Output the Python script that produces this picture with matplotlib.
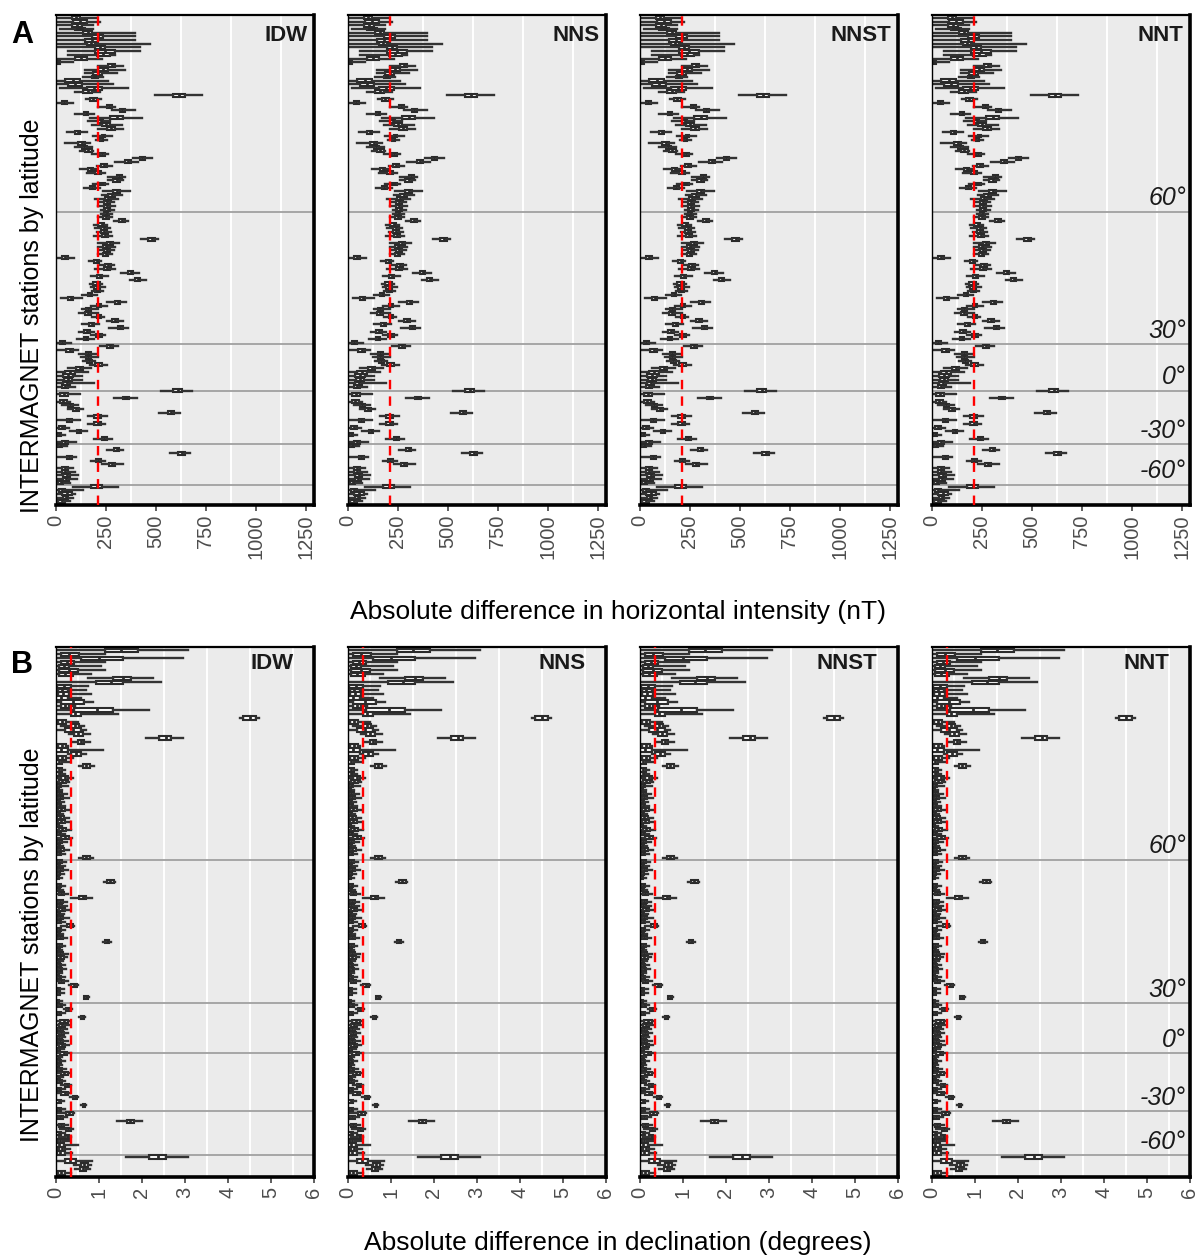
import matplotlib
matplotlib.use("Agg")
import matplotlib.pyplot as plt

plt.rcParams['font.family'] = ['Liberation Sans', 'DejaVu Sans']

methods = ['IDW', 'NNS', 'NNST', 'NNT']
lat_labels = ['60°', '30°', '0°', '-30°', '-60°']
# station rows (north to south) where the latitude bands change
lat_rows = [52.5, 88.5, 101, 115.5, 126.5]

# horizontal intensity differences (nT), one box per station
h_q1 = [78, 87, 78, 95, 137, 178, 145, 153, 195, 195,
        203, 95, 3, 262, 212, 187, 178, 45, 62, 153,
        137, 587, 170, 28, 253, 320, 142, 270, 212, 228,
        253, 95, 228, 220, 112, 128, 145, 220, 420, 345,
        225, 162, 195, 303, 287, 212, 170, 287, 262, 245,
        242, 242, 245, 242, 237, 315, 212, 225, 225, 228,
        462, 253, 237, 242, 237, 28, 192, 245, 242, 362,
        203, 395, 187, 192, 195, 158, 62, 295, 203, 148,
        145, 203, 282, 165, 308, 142, 198, 142, 20, 253,
        50, 148, 148, 153, 195, 98, 45, 37, 42, 37,
        28, 587, 20, 337, 20, 58, 87, 558, 192, 53,
        192, 15, 103, 3, 228, 28, 8, 292, 612, 53,
        198, 265, 32, 28, 37, 37, 12, 175, 15, 28,
        37, 12]
h_med = [100, 120, 103, 120, 158, 208, 178, 175, 220, 245,
         237, 125, 12, 278, 237, 208, 195, 85, 95, 190,
         158, 615, 187, 40, 265, 332, 152, 303, 225, 250,
         275, 108, 237, 228, 128, 140, 162, 232, 432, 360,
         240, 175, 210, 315, 303, 228, 182, 305, 278, 260,
         255, 255, 258, 252, 250, 330, 228, 240, 240, 243,
         478, 270, 250, 255, 250, 45, 203, 260, 255, 375,
         218, 408, 203, 206, 208, 168, 75, 308, 214, 162,
         160, 214, 297, 178, 322, 156, 213, 152, 32, 270,
         68, 162, 162, 165, 212, 118, 70, 62, 60, 53,
         45, 608, 40, 350, 37, 72, 100, 575, 208, 65,
         208, 30, 114, 14, 240, 45, 18, 303, 628, 65,
         212, 280, 47, 45, 53, 51, 25, 203, 30, 53,
         50, 28]
h_q3 = [120, 153, 128, 145, 178, 237, 212, 195, 245, 295,
        270, 153, 20, 295, 262, 228, 212, 120, 128, 228,
        178, 645, 203, 53, 278, 345, 162, 337, 237, 270,
        295, 120, 245, 237, 145, 153, 178, 245, 445, 375,
        253, 187, 223, 328, 320, 245, 195, 320, 295, 275,
        270, 270, 270, 262, 265, 345, 242, 253, 253, 258,
        495, 287, 262, 270, 262, 62, 215, 275, 270, 387,
        232, 420, 220, 220, 220, 178, 87, 320, 225, 175,
        175, 225, 312, 192, 337, 170, 228, 162, 45, 287,
        87, 175, 175, 178, 228, 137, 95, 87, 78, 70,
        62, 628, 62, 365, 53, 87, 115, 592, 225, 78,
        225, 45, 125, 25, 253, 62, 28, 315, 645, 78,
        225, 295, 62, 62, 70, 65, 37, 232, 45, 78,
        62, 45]
h_lo = [0, 0, 0, 20, 0, 0, 0, 0, 0, 62,
        62, 0, 0, 212, 145, 145, 137, 0, 12, 20,
        95, 495, 148, 3, 212, 278, 95, 170, 162, 178,
        212, 53, 187, 200, 45, 95, 120, 178, 387, 295,
        203, 120, 153, 262, 262, 187, 142, 237, 228, 195,
        220, 208, 225, 225, 212, 292, 192, 195, 205, 192,
        425, 212, 212, 220, 212, 0, 166, 220, 195, 325,
        175, 370, 170, 175, 180, 132, 25, 253, 175, 128,
        115, 178, 253, 132, 265, 115, 175, 103, 3, 220,
        12, 115, 125, 135, 170, 62, 12, 3, 12, 3,
        0, 525, 3, 292, 3, 28, 62, 515, 158, 12,
        158, 3, 70, 0, 192, 3, 0, 253, 570, 8,
        175, 228, 3, 3, 3, 3, 0, 87, 0, 3,
        3, 0]
h_hi = [203, 220, 187, 187, 395, 395, 395, 470, 420, 420,
        295, 228, 87, 337, 345, 303, 237, 262, 287, 362,
        220, 728, 225, 87, 295, 395, 192, 432, 270, 328,
        337, 153, 278, 255, 170, 178, 187, 262, 478, 412,
        278, 203, 245, 345, 337, 262, 220, 370, 328, 308,
        290, 295, 290, 278, 278, 362, 253, 270, 275, 278,
        512, 315, 295, 290, 278, 92, 225, 292, 295, 415,
        262, 448, 228, 245, 235, 203, 128, 348, 253, 212,
        212, 242, 337, 215, 362, 192, 245, 192, 75, 308,
        112, 198, 212, 195, 253, 175, 162, 128, 128, 192,
        95, 682, 120, 403, 70, 112, 137, 620, 253, 120,
        245, 65, 153, 45, 282, 98, 53, 337, 670, 98,
        245, 337, 87, 95, 112, 103, 70, 312, 137, 95,
        87, 70]

# declination differences (degrees), same station order
d_q1 = [1.13, 0.12, 0.58, 0.12, 0.08, 0.08, 0.08, 1.32, 0.93, 0.02,
        0.04, 0.04, 0.0, 0.12, 0.12, 0.43, 0.35, 4.35, 0.04, 0.35,
        0.20, 0.43, 2.40, 0.50, 0.04, 0.0, 0.35, 0.04, 0.0, 0.62,
        0.0, 0.0, 0.12, 0.08, 0.02, 0.0, 0.02, 0.04, 0.0, 0.02,
        0.04, 0.0, 0.02, 0.04, 0.0, 0.06, 0.02, 0.12, 0.02, 0.0,
        0.04, 0.02, 0.62, 0.02, 0.0, 0.04, 0.02, 0.0, 1.19, 0.02,
        0.0, 0.06, 0.54, 0.04, 0.02, 0.06, 0.0, 0.04, 0.02, 0.25,
        0.02, 0.0, 0.04, 1.14, 0.02, 0.0, 0.04, 0.02, 0.0, 0.02,
        0.04, 0.0, 0.02, 0.06, 0.35, 0.0, 0.02, 0.64, 0.0, 0.04,
        0.23, 0.02, 0.58, 0.10, 0.06, 0.04, 0.06, 0.02, 0.04, 0.08,
        0.02, 0.10, 0.0, 0.02, 0.0, 0.04, 0.12, 0.0, 0.02, 0.20,
        0.02, 0.12, 0.39, 0.0, 0.62, 0.02, 0.23, 0.04, 1.65, 0.06,
        0.23, 0.0, 0.20, 0.04, 0.0, 0.06, 0.02, 2.17, 0.20, 0.58,
        0.56, 0.04]
d_med = [1.51, 0.30, 1.00, 0.25, 0.18, 0.30, 0.22, 1.55, 1.28, 0.18,
         0.15, 0.17, 0.12, 0.40, 0.22, 0.95, 0.45, 4.50, 0.13, 0.45,
         0.40, 0.52, 2.55, 0.58, 0.13, 0.12, 0.46, 0.13, 0.07, 0.70,
         0.07, 0.06, 0.20, 0.15, 0.07, 0.04, 0.08, 0.10, 0.05, 0.06,
         0.12, 0.05, 0.09, 0.11, 0.04, 0.14, 0.07, 0.20, 0.08, 0.04,
         0.10, 0.06, 0.70, 0.07, 0.05, 0.10, 0.06, 0.04, 1.26, 0.07,
         0.05, 0.12, 0.62, 0.10, 0.08, 0.13, 0.05, 0.10, 0.07, 0.32,
         0.07, 0.05, 0.10, 1.19, 0.07, 0.05, 0.10, 0.10, 0.05, 0.06,
         0.09, 0.04, 0.07, 0.12, 0.42, 0.05, 0.06, 0.70, 0.04, 0.09,
         0.29, 0.07, 0.62, 0.18, 0.14, 0.10, 0.12, 0.08, 0.10, 0.14,
         0.06, 0.18, 0.05, 0.07, 0.04, 0.09, 0.18, 0.05, 0.08, 0.26,
         0.07, 0.20, 0.44, 0.06, 0.65, 0.07, 0.31, 0.10, 1.73, 0.12,
         0.29, 0.06, 0.26, 0.10, 0.08, 0.13, 0.10, 2.37, 0.33, 0.66,
         0.63, 0.12]
d_q3 = [1.90, 0.54, 1.55, 0.43, 0.31, 0.50, 0.39, 1.75, 1.55, 0.35,
        0.27, 0.31, 0.27, 0.66, 0.31, 1.32, 0.58, 4.66, 0.23, 0.54,
        0.58, 0.62, 2.68, 0.66, 0.23, 0.27, 0.58, 0.23, 0.15, 0.80,
        0.15, 0.12, 0.27, 0.23, 0.12, 0.08, 0.15, 0.16, 0.10, 0.12,
        0.20, 0.09, 0.18, 0.20, 0.08, 0.24, 0.12, 0.30, 0.15, 0.09,
        0.18, 0.11, 0.78, 0.13, 0.10, 0.17, 0.10, 0.08, 1.34, 0.12,
        0.09, 0.18, 0.70, 0.17, 0.14, 0.21, 0.10, 0.16, 0.12, 0.39,
        0.12, 0.10, 0.16, 1.24, 0.13, 0.09, 0.17, 0.19, 0.09, 0.11,
        0.14, 0.08, 0.12, 0.18, 0.49, 0.10, 0.10, 0.74, 0.08, 0.14,
        0.35, 0.12, 0.66, 0.27, 0.22, 0.17, 0.18, 0.14, 0.17, 0.20,
        0.10, 0.25, 0.09, 0.12, 0.08, 0.15, 0.27, 0.09, 0.14, 0.31,
        0.12, 0.27, 0.49, 0.11, 0.68, 0.12, 0.39, 0.16, 1.81, 0.18,
        0.35, 0.12, 0.31, 0.17, 0.18, 0.20, 0.20, 2.56, 0.47, 0.74,
        0.70, 0.22]
d_lo = [0.0, 0.0, 0.0, 0.0, 0.0, 0.0, 0.0, 0.74, 0.0, 0.0,
        0.0, 0.0, 0.0, 0.0, 0.0, 0.0, 0.0, 4.28, 0.0, 0.12,
        0.05, 0.31, 2.10, 0.39, 0.0, 0.0, 0.27, 0.0, 0.0, 0.54,
        0.0, 0.0, 0.0, 0.0, 0.0, 0.0, 0.0, 0.0, 0.0, 0.0,
        0.0, 0.0, 0.0, 0.0, 0.0, 0.0, 0.0, 0.02, 0.0, 0.0,
        0.0, 0.0, 0.54, 0.0, 0.0, 0.0, 0.0, 0.0, 1.12, 0.0,
        0.0, 0.0, 0.35, 0.0, 0.0, 0.0, 0.0, 0.0, 0.0, 0.12,
        0.0, 0.0, 0.0, 1.10, 0.0, 0.0, 0.0, 0.0, 0.0, 0.0,
        0.0, 0.0, 0.0, 0.0, 0.30, 0.0, 0.0, 0.64, 0.0, 0.0,
        0.18, 0.0, 0.54, 0.02, 0.0, 0.0, 0.0, 0.0, 0.0, 0.02,
        0.0, 0.04, 0.0, 0.0, 0.0, 0.0, 0.04, 0.0, 0.0, 0.12,
        0.0, 0.04, 0.33, 0.0, 0.58, 0.0, 0.04, 0.0, 1.42, 0.0,
        0.10, 0.0, 0.08, 0.0, 0.0, 0.0, 0.0, 1.63, 0.0, 0.43,
        0.45, 0.0]
d_hi = [3.07, 1.13, 2.95, 1.13, 1.05, 1.13, 0.81, 2.25, 2.45, 0.74,
        0.70, 0.81, 0.58, 0.85, 0.45, 2.17, 1.45, 4.72, 0.50, 0.66,
        0.70, 0.78, 2.95, 0.78, 0.27, 1.09, 0.70, 0.39, 0.30, 0.89,
        0.20, 0.20, 0.39, 0.30, 0.27, 0.15, 0.25, 0.30, 0.18, 0.22,
        0.33, 0.16, 0.30, 0.33, 0.14, 0.36, 0.22, 0.38, 0.26, 0.16,
        0.30, 0.20, 0.85, 0.24, 0.20, 0.28, 0.18, 0.15, 1.38, 0.22,
        0.17, 0.28, 0.83, 0.26, 0.25, 0.32, 0.18, 0.30, 0.20, 0.42,
        0.22, 0.16, 0.26, 1.27, 0.22, 0.15, 0.28, 0.26, 0.16, 0.20,
        0.24, 0.14, 0.22, 0.28, 0.52, 0.18, 0.18, 0.77, 0.14, 0.22,
        0.38, 0.20, 0.68, 0.32, 0.30, 0.25, 0.27, 0.22, 0.28, 0.30,
        0.18, 0.34, 0.15, 0.20, 0.14, 0.24, 0.33, 0.16, 0.22, 0.36,
        0.20, 0.33, 0.52, 0.18, 0.70, 0.20, 0.43, 0.26, 2.00, 0.28,
        0.40, 0.20, 0.36, 0.30, 0.50, 0.32, 0.38, 3.07, 0.84, 0.82,
        0.78, 0.35]

h_ref = 210    # overall median, nT
d_ref = 0.35   # overall median, degrees
h_ticks = [0, 250, 500, 750, 1000, 1250]
h_grid = [125, 375, 625, 875, 1125]
d_ticks = [0, 1, 2, 3, 4, 5, 6]
d_grid = [0.5, 1.5, 2.5, 3.5, 4.5, 5.5]


def box_stats(q1, med, q3, lo, hi):
    return [dict(q1=a, med=b, q3=c, whislo=d, whishi=e)
            for a, b, c, d, e in zip(q1, med, q3, lo, hi)]


W, H = 1202, 1260
fig = plt.figure(figsize=(W / 100, H / 100), dpi=100)
fig.patch.set_facecolor('white')

lefts = [56, 348, 640, 932]
pw = 258
rows = [
    dict(top=15, bottom=505, stats=box_stats(h_q1, h_med, h_q3, h_lo, h_hi),
         xlim=(0, 1290), ticks=h_ticks, grid=h_grid, ref=h_ref,
         title_x=0.975, title_y=0.958,
         letter='A', letter_y=35,
         xlabel='Absolute difference in horizontal intensity (nT)', xlabel_y=612,
         ylabel_y=316),
    dict(top=647, bottom=1177, stats=box_stats(d_q1, d_med, d_q3, d_lo, d_hi),
         xlim=(0, 6), ticks=d_ticks, grid=d_grid, ref=d_ref,
         title_x=0.92, title_y=0.969,
         letter='B', letter_y=665,
         xlabel='Absolute difference in declination (degrees)', xlabel_y=1243,
         ylabel_y=945),
]

for row in rows:
    n = len(row['stats'])
    for k, (left, m) in enumerate(zip(lefts, methods)):
        ax = fig.add_axes([left / W, 1 - row['bottom'] / H, pw / W,
                           (row['bottom'] - row['top']) / H])
        ax.set_facecolor('#EBEBEB')
        ax.set_xlim(*row['xlim'])
        ax.set_ylim(n, -0.8)

        ax.set_xticks(row['ticks'])
        ax.set_xticks(row['grid'], minor=True)
        ax.grid(which='minor', axis='x', color='white', lw=1.4)
        ax.set_axisbelow(True)
        ax.tick_params(axis='x', which='major', length=4, width=1.1,
                       color='#333333', labelsize=14.5, labelcolor='#4D4D4D',
                       labelrotation=90, pad=3)
        ax.tick_params(axis='x', which='minor', length=0)
        ax.tick_params(axis='y', left=False, labelleft=False)

        for r in lat_rows:
            ax.axhline(r, color='#A6A6A6', lw=1.4, zorder=1)

        ax.bxp(row['stats'], positions=range(n), widths=0.8,
               orientation='horizontal', showfliers=False, showcaps=False,
               patch_artist=True, manage_ticks=False,
               boxprops=dict(facecolor='white', edgecolor='#2B2B2B', linewidth=1.5),
               medianprops=dict(color='#2B2B2B', linewidth=2.0),
               whiskerprops=dict(color='#333333', linewidth=1.7))

        ax.axvline(row['ref'], color='red', lw=1.7, ls=(0, (4, 3)), zorder=6)

        for side, lw in (('left', 1.0), ('top', 1.6), ('right', 2.6), ('bottom', 2.6)):
            ax.spines[side].set_color('black')
            ax.spines[side].set_linewidth(lw)

        ax.text(row['title_x'], row['title_y'], m, transform=ax.transAxes,
                ha='right', va='center', fontsize=16, fontweight='bold',
                color='#1A1A1A', zorder=8)

        if k == len(methods) - 1:
            for r, lab in zip(lat_rows, lat_labels):
                ax.annotate(lab, xy=(0.985, r), xycoords=('axes fraction', 'data'),
                            xytext=(0, 1), textcoords='offset points',
                            ha='right', va='bottom', fontsize=18, style='italic',
                            color='#1A1A1A', zorder=8)

    fig.text(22 / W, 1 - row['letter_y'] / H, row['letter'], ha='center',
             va='center', fontsize=22, fontweight='bold')
    fig.text(618 / W, 1 - row['xlabel_y'] / H, row['xlabel'], ha='center',
             va='center', fontsize=19)
    fig.text(32 / W, 1 - row['ylabel_y'] / H, 'INTERMAGNET stations by latitude',
             rotation=90, ha='center', va='center', fontsize=18)

fig.savefig('out.png', dpi=100)
